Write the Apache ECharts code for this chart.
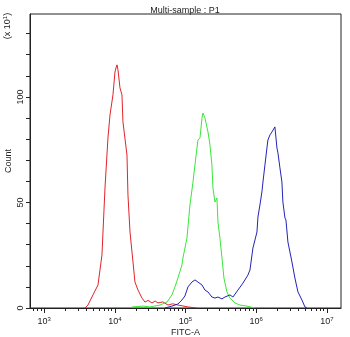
<!DOCTYPE html>
<html>
<head>
<meta charset="utf-8">
<script src="https://cdn.jsdelivr.net/npm/echarts@6/dist/echarts.min.js"></script>
<style>
  html, body { margin: 0; padding: 0; background: #fff; }
  #chart { width: 350px; height: 337px; }
</style>
</head>
<body>
<div id="chart"></div>
<script>
// FITC-A intensity is stored as log10 values; counts are in units of 10 events.
const redFitcLog10 = [3.578, 3.620, 3.691, 3.762, 3.818, 3.861, 3.903, 3.932, 3.960, 3.974, 4.002, 4.016, 4.031, 4.045, 4.073, 4.101, 4.115, 4.172, 4.186, 4.215, 4.257, 4.285, 4.328, 4.384, 4.427, 4.470, 4.526, 4.570, 4.610, 4.680, 4.752, 4.820, 4.893, 4.960, 5.035, 5.160];
const redCount     = [0, 1.4, 6.2, 10.9, 25.1, 56.9, 80.6, 91.5, 92.4, 101, 111.8, 113.7, 115.2, 112.8, 104.3, 101, 88.2, 72.5, 53.6, 36, 21.8, 12.3, 8.5, 4.7, 2.8, 3.6, 2.4, 3.3, 2.4, 2.9, 1.4, 2.0, 1.4, 1.0, 0.5, 0];

const greenFitcLog10 = [4.243, 4.400, 4.497, 4.639, 4.738, 4.808, 4.851, 4.893, 4.950, 4.964, 5.021, 5.063, 5.106, 5.162, 5.176, 5.205, 5.233, 5.247, 5.275, 5.289, 5.318, 5.346, 5.374, 5.388, 5.417, 5.445, 5.459, 5.487, 5.516, 5.544, 5.586, 5.629, 5.700, 5.770, 5.869, 5.982];
const greenCount     = [0.5, 0.9, 0.5, 1.4, 2.8, 6.2, 10, 14.2, 20.4, 23.7, 33.2, 48.8, 59.7, 75.8, 79.6, 80.6, 90, 92.4, 90, 90.5, 83.4, 77.3, 67.8, 56.9, 50.2, 52.1, 40.8, 33.2, 23.7, 14.2, 7.6, 4.7, 2.4, 1.4, 0.9, 0];

const blueFitcLog10 = [4.709, 4.808, 4.893, 4.950, 4.992, 5.035, 5.091, 5.134, 5.176, 5.233, 5.275, 5.318, 5.374, 5.417, 5.459, 5.516, 5.558, 5.629, 5.671, 5.742, 5.813, 5.883, 5.912, 5.954, 6.011, 6.025, 6.053, 6.081, 6.096, 6.124, 6.152, 6.166, 6.195, 6.223, 6.237, 6.265, 6.279, 6.294, 6.308, 6.336, 6.364, 6.378, 6.407, 6.421, 6.449, 6.506, 6.548, 6.591, 6.647, 6.690, 6.718];
const blueCount     = [0, 0.9, 1.9, 3.8, 5.7, 10, 12.3, 13.3, 12.3, 10.9, 8.5, 7.6, 5.2, 4.7, 5.2, 4.3, 5.2, 6.2, 5.2, 8.5, 11.8, 15.6, 18, 28.4, 36, 43.1, 48.8, 55, 59.7, 67.8, 75.8, 79.6, 82, 83.4, 82.9, 85.8, 86.7, 75.8, 73.5, 66.4, 59.7, 50.2, 42.7, 41.7, 31.3, 21.8, 14.2, 7.6, 3.8, 0.5, 0];

const decadeTicks = [3, 4, 5, 6, 7];
const countTicks = [0, 10, 20, 30, 40, 50, 60, 70, 80, 90, 100, 110, 120, 130];
const countLabels = [0, 50, 100];

const FONT = '"Liberation Sans", Arial, sans-serif';
const AXIS_COLOR = '#222';

// Minor ticks of the log axis: 2..9 within every decade
const minorTicks = [];
for (let d = 2; d <= 7; d++) {
  for (let k = 2; k <= 9; k++) {
    const v = d + Math.log10(k);
    if (v > 2.8 && v < 7.2) minorTicks.push(v);
  }
}

const pairs = (xs, ys) => xs.map((x, i) => [x, ys[i]]);

const chart = echarts.init(document.getElementById('chart'), null, { renderer: 'canvas' });

const lineSeries = (name, xs, ys, color) => ({
  name,
  type: 'line',
  data: pairs(xs, ys),
  showSymbol: false,
  symbol: 'none',
  silent: true,
  animation: false,
  lineStyle: { color, width: 1 },
  xAxisIndex: 0,
  yAxisIndex: 0
});

chart.setOption({
  animation: false,
  backgroundColor: '#fff',
  title: {
    text: 'Multi-sample : P1',
    left: 180,
    top: 1,
    textAlign: 'center',
    textStyle: { fontFamily: FONT, fontSize: 9, fontWeight: 'normal', color: '#222' }
  },
  grid: {
    left: 30, top: 14, right: 9, bottom: 29,
    containLabel: false,
    outerBoundsMode: 'none',
    show: true, borderColor: AXIS_COLOR, borderWidth: 1, backgroundColor: 'transparent'
  },
  xAxis: [
    {
      type: 'value',
      min: 2.8,
      max: 7.2,
      name: 'FITC-A',
      nameLocation: 'middle',
      nameGap: 20,
      nameMoveOverlap: false,
      nameTextStyle: { fontFamily: FONT, fontSize: 9, color: '#222' },
      axisLine: { show: true, lineStyle: { color: AXIS_COLOR, width: 1 } },
      axisTick: { show: true, length: 5, customValues: decadeTicks, lineStyle: { color: AXIS_COLOR } },
      splitLine: { show: false },
      axisLabel: {
        customValues: decadeTicks,
        margin: 8,
        formatter: v => '{b|10}{s|' + Math.round(v) + '}',
        rich: {
          b: { fontFamily: FONT, fontSize: 9, color: '#222' },
          s: { fontFamily: FONT, fontSize: 6, color: '#222', padding: [0, 0, 6, 0] }
        }
      }
    },
    {
      type: 'value',
      min: 2.8,
      max: 7.2,
      position: 'bottom',
      axisLine: { show: false },
      axisTick: { show: true, length: 3, customValues: minorTicks, lineStyle: { color: AXIS_COLOR } },
      axisLabel: { show: false },
      splitLine: { show: false }
    }
  ],
  yAxis: {
    type: 'value',
    min: 0,
    max: 139.3,
    name: 'Count',
    nameLocation: 'middle',
    nameRotate: 90,
    nameGap: 17,
    nameMoveOverlap: false,
    nameTextStyle: { fontFamily: FONT, fontSize: 9, color: '#222' },
    axisLine: { show: true, lineStyle: { color: AXIS_COLOR, width: 1 } },
    axisTick: { show: true, length: 4, customValues: countTicks, lineStyle: { color: AXIS_COLOR } },
    splitLine: { show: false },
    axisLabel: {
      customValues: countLabels,
      rotate: 90,
      margin: 5,
      fontFamily: FONT,
      fontSize: 9,
      color: '#222'
    }
  },
  graphic: [
    {
      type: 'text',
      x: 8,
      y: 26,
      rotation: Math.PI / 2,
      style: {
        text: '(x 10{s|1})',
        fontFamily: FONT,
        fontSize: 9,
        fill: '#222',
        align: 'center',
        verticalAlign: 'middle',
        rich: {
          s: { fontFamily: FONT, fontSize: 6, fill: '#222', padding: [0, 0, 6, 0] }
        }
      }
    }
  ],
  series: [
    lineSeries('P1-red', redFitcLog10, redCount, '#e0242a'),
    lineSeries('P1-green', greenFitcLog10, greenCount, '#3be53b'),
    lineSeries('P1-blue', blueFitcLog10, blueCount, '#2323b8')
  ]
});
</script>
</body>
</html>
